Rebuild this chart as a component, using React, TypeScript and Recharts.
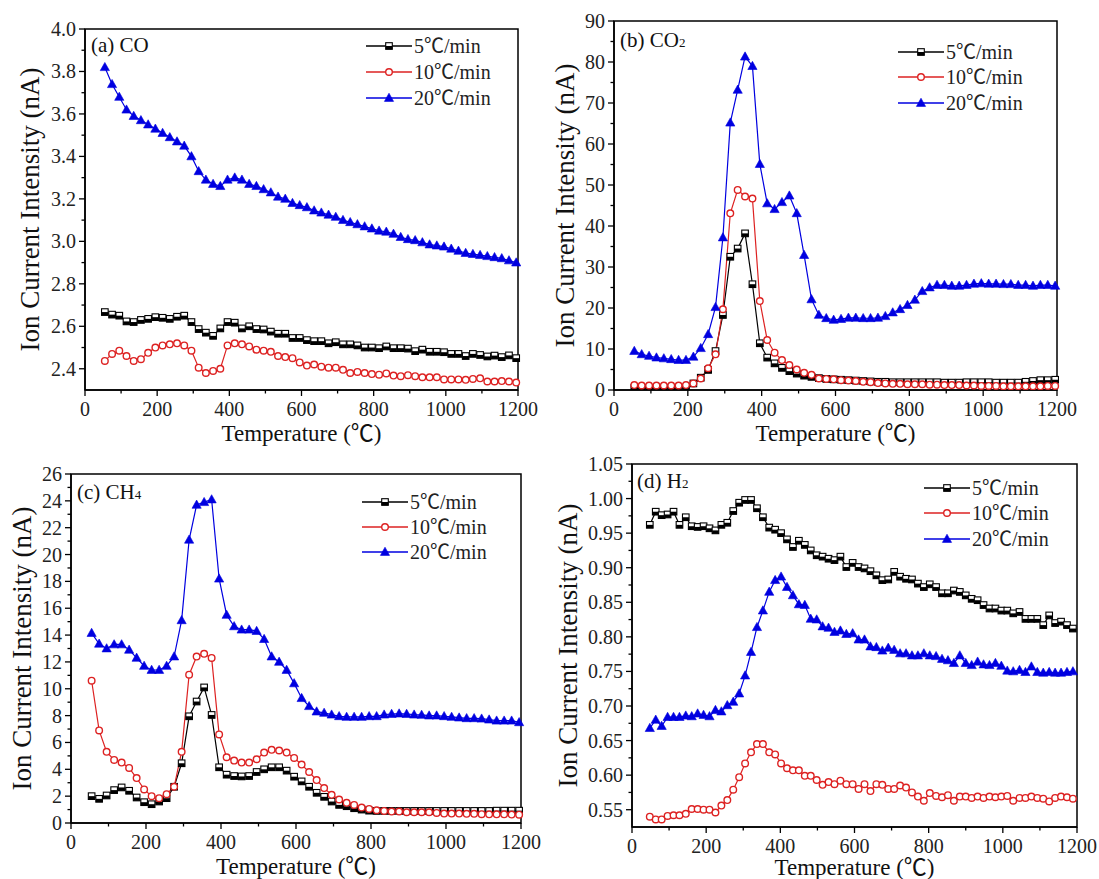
import React from "react";
import { LineChart, Line, XAxis, YAxis, ReferenceArea, Legend } from "recharts";

const FONT = "'Liberation Serif', 'Times New Roman', 'Noto Sans CJK SC', serif";

// temperatures (°C) for panels a-c
const TEMPS = [
  55, 75, 95, 115, 135, 155, 175, 195, 215, 235, 255, 275, 295, 315, 335, 355, 375, 395, 415, 435,
  455, 475, 495, 515, 535, 555, 575, 595, 615, 635, 655, 675, 695, 715, 735, 755, 775, 795, 815, 835,
  855, 875, 895, 915, 935, 955, 975, 995, 1015, 1035, 1055, 1075, 1095, 1115, 1135, 1155, 1175, 1195,
];
// H2 was sampled more densely
const TEMPS_H2 = [
  48, 64, 80, 96, 112, 128, 145, 161, 177, 193, 209, 225, 241, 257, 273, 289, 305, 321, 337, 353,
  370, 386, 402, 418, 434, 450, 466, 482, 498, 514, 530, 546, 562, 578, 595, 611, 627, 643, 659, 675,
  691, 707, 723, 739, 755, 771, 787, 803, 820, 836, 852, 868, 884, 900, 916, 932, 948, 964, 980, 996,
  1012, 1028, 1045, 1061, 1077, 1093, 1109, 1125, 1141, 1157, 1173, 1189,
];

const X_TICKS = [0, 100, 200, 300, 400, 500, 600, 700, 800, 900, 1000, 1100, 1200];

const SERIES_NAMES = ["5℃/min", "10℃/min", "20℃/min"];

// (a) CO
const CO_5 = [
  2.667, 2.655, 2.65, 2.623, 2.62, 2.63, 2.635, 2.643, 2.64, 2.635, 2.645, 2.65, 2.62, 2.587, 2.57,
  2.555, 2.59, 2.62, 2.617, 2.59, 2.6, 2.587, 2.585, 2.575, 2.565, 2.565, 2.545, 2.545, 2.535, 2.53,
  2.53, 2.52, 2.525, 2.515, 2.515, 2.51, 2.5, 2.5, 2.497, 2.505, 2.497, 2.497, 2.495, 2.483, 2.49,
  2.48, 2.48, 2.478, 2.47, 2.47, 2.46, 2.47, 2.465, 2.458, 2.462, 2.455, 2.463, 2.45,
];
const CO_10 = [
  2.437, 2.47, 2.485, 2.46, 2.437, 2.445, 2.475, 2.5, 2.51, 2.515, 2.52, 2.51, 2.485, 2.405, 2.38,
  2.39, 2.4, 2.51, 2.52, 2.515, 2.505, 2.49, 2.485, 2.48, 2.46, 2.455, 2.45, 2.43, 2.415, 2.42, 2.41,
  2.405, 2.405, 2.395, 2.38, 2.385, 2.38, 2.375, 2.372, 2.378, 2.368, 2.365, 2.37, 2.365, 2.36, 2.36,
  2.36, 2.35, 2.35, 2.35, 2.348, 2.352, 2.355, 2.34, 2.34, 2.342, 2.34, 2.335,
];
const CO_20 = [
  3.82, 3.74, 3.68, 3.62, 3.59, 3.57, 3.55, 3.53, 3.51, 3.49, 3.47, 3.45, 3.4, 3.33, 3.29, 3.27,
  3.26, 3.29, 3.3, 3.29, 3.27, 3.26, 3.245, 3.23, 3.21, 3.2, 3.18, 3.17, 3.16, 3.145, 3.135, 3.125,
  3.115, 3.1, 3.09, 3.08, 3.07, 3.06, 3.05, 3.045, 3.035, 3.02, 3.01, 3.005, 2.995, 2.985, 2.98,
  2.975, 2.965, 2.955, 2.945, 2.94, 2.935, 2.93, 2.925, 2.92, 2.91, 2.9,
];

// (b) CO2
const CO2_5 = [
  0.5, 0.5, 0.5, 0.5, 0.5, 0.5, 0.5, 0.6, 1.6, 3.0, 4.9, 9.5, 18.3, 32.5, 34.5, 38.2, 25.8, 11.4,
  7.9, 6.5, 5.4, 4.6, 4.0, 3.5, 3.2, 2.9, 2.7, 2.6, 2.5, 2.4, 2.3, 2.2, 2.1, 2.0, 2.0, 1.9, 1.9, 1.9,
  1.9, 1.9, 1.9, 1.9, 1.8, 1.8, 1.8, 1.9, 1.9, 1.9, 1.9, 1.8, 1.8, 1.8, 1.8, 2.0, 2.2, 2.4, 2.4, 2.5,
];
const CO2_10 = [
  1.2, 1.1, 1.1, 1.1, 1.1, 1.1, 1.1, 1.2, 1.6, 2.8, 5.3, 8.7, 19.7, 43.1, 48.8, 47.2, 46.7, 21.7,
  12.2, 9.1, 7.3, 6.1, 5.0, 4.2, 3.7, 2.8, 2.7, 2.6, 2.4, 2.3, 2.2, 2.0, 1.9, 1.7, 1.6, 1.5, 1.5, 1.4,
  1.4, 1.4, 1.3, 1.3, 1.2, 1.2, 1.2, 1.1, 1.1, 1.0, 1.0, 1.0, 0.9, 0.9, 0.9, 0.9, 0.9, 0.9, 1.0, 1.0,
];
const CO2_20 = [
  9.5, 8.7, 8.3, 7.9, 7.7, 7.5, 7.3, 7.3, 8.1, 10.2, 13.6, 20.2, 37.2, 65.2, 73.2, 81.3, 79.0, 55.1,
  45.5, 44.1, 45.8, 47.4, 43.1, 32.9, 22.1, 18.3, 17.5, 17.1, 17.3, 17.6, 17.6, 17.5, 17.5, 17.6,
  18.0, 18.9, 19.7, 20.7, 22.0, 24.1, 25.0, 25.6, 25.6, 25.4, 25.4, 25.6, 25.9, 26.0, 25.9, 25.9,
  25.8, 25.8, 25.6, 25.6, 25.4, 25.6, 25.6, 25.4,
];

// (c) CH4
const CH4_5 = [
  2.0, 1.8, 2.05, 2.45, 2.65, 2.4, 1.9, 1.55, 1.4, 1.6, 1.85, 2.7, 4.45, 7.95, 9.05, 10.1, 8.05,
  4.15, 3.6, 3.5, 3.47, 3.5, 3.8, 4.0, 4.15, 4.15, 3.9, 3.45, 3.1, 2.7, 2.25, 1.95, 1.6, 1.35, 1.25,
  1.1, 1.0, 0.92, 0.9, 0.9, 0.9, 0.9, 0.9, 0.9, 0.9, 0.9, 0.9, 0.9, 0.9, 0.9, 0.9, 0.9, 0.9, 0.9,
  0.92, 0.92, 0.92, 0.92,
];
const CH4_10 = [
  10.6, 6.9, 5.3, 4.7, 4.5, 4.1, 3.35, 2.5, 2.0, 1.85, 2.15, 2.7, 5.3, 11.05, 12.4, 12.6, 12.3, 6.6,
  4.9, 4.65, 4.5, 4.5, 4.75, 5.25, 5.45, 5.4, 5.25, 4.85, 4.35, 3.8, 3.2, 2.6, 2.1, 1.75, 1.5, 1.35,
  1.15, 1.05, 0.95, 0.9, 0.85, 0.85, 0.8, 0.8, 0.8, 0.8, 0.75, 0.7, 0.7, 0.7, 0.68, 0.68, 0.66, 0.65,
  0.65, 0.65, 0.63, 0.62,
];
const CH4_20 = [
  14.15, 13.35, 13.0, 13.3, 13.3, 12.9, 12.3, 11.7, 11.4, 11.4, 11.7, 12.4, 15.1, 21.1, 23.7, 23.9,
  24.1, 18.2, 15.5, 14.65, 14.4, 14.4, 14.3, 13.7, 12.4, 12.0, 11.4, 10.4, 9.3, 8.7, 8.3, 8.2, 8.07,
  7.95, 7.9, 7.9, 7.9, 7.95, 7.95, 8.07, 8.12, 8.15, 8.12, 8.07, 8.05, 8.0, 8.0, 7.95, 7.9, 7.85, 7.8,
  7.8, 7.77, 7.7, 7.62, 7.62, 7.62, 7.5,
];

// (d) H2
const H2_5 = [
  0.962, 0.981, 0.976, 0.977, 0.981, 0.962, 0.973, 0.96, 0.959, 0.96, 0.957, 0.954, 0.962, 0.965,
  0.982, 0.994, 0.998, 0.998, 0.986, 0.973, 0.958, 0.955, 0.95, 0.941, 0.93, 0.939, 0.933, 0.925,
  0.918, 0.916, 0.913, 0.911, 0.916, 0.901, 0.907, 0.901, 0.899, 0.895, 0.889, 0.882, 0.883, 0.894,
  0.887, 0.884, 0.883, 0.877, 0.872, 0.876, 0.872, 0.863, 0.863, 0.867, 0.865, 0.86, 0.855, 0.853,
  0.846, 0.841, 0.841, 0.838, 0.838, 0.834, 0.836, 0.826, 0.826, 0.826, 0.817, 0.831, 0.82, 0.822,
  0.817, 0.812,
];
const H2_10 = [
  0.54, 0.536, 0.536, 0.541, 0.542, 0.542, 0.544, 0.551, 0.551, 0.55, 0.55, 0.546, 0.556, 0.564,
  0.579, 0.597, 0.617, 0.633, 0.645, 0.645, 0.633, 0.63, 0.617, 0.61, 0.607, 0.607, 0.599, 0.599,
  0.593, 0.586, 0.59, 0.587, 0.592, 0.587, 0.587, 0.58, 0.587, 0.577, 0.587, 0.586, 0.58, 0.58,
  0.585, 0.582, 0.575, 0.569, 0.563, 0.574, 0.57, 0.568, 0.571, 0.563, 0.569, 0.569, 0.567, 0.569,
  0.567, 0.569, 0.568, 0.569, 0.57, 0.563, 0.567, 0.567, 0.569, 0.567, 0.566, 0.562, 0.567, 0.569,
  0.568, 0.566,
];
const H2_20 = [
  0.668, 0.68, 0.671, 0.684, 0.684, 0.684, 0.686, 0.685, 0.689, 0.687, 0.685, 0.694, 0.692, 0.701,
  0.706, 0.718, 0.744, 0.778, 0.814, 0.838, 0.865, 0.882, 0.887, 0.872, 0.86, 0.847, 0.846, 0.826,
  0.825, 0.815, 0.813, 0.807, 0.809, 0.804, 0.805, 0.796, 0.796, 0.786, 0.785, 0.78, 0.784, 0.781,
  0.776, 0.776, 0.773, 0.773, 0.776, 0.773, 0.772, 0.768, 0.766, 0.762, 0.773, 0.762, 0.759, 0.764,
  0.76, 0.759, 0.762, 0.758, 0.751, 0.75, 0.752, 0.749, 0.757, 0.749, 0.748, 0.749, 0.748, 0.748,
  0.749, 0.75,
];

// y ticks
const CO_MAJOR = [2.4, 2.6, 2.8, 3.0, 3.2, 3.4, 3.6, 3.8, 4.0];
const CO_MINOR = [2.5, 2.7, 2.9, 3.1, 3.3, 3.5, 3.7, 3.9];
const CO2_MAJOR = [0, 10, 20, 30, 40, 50, 60, 70, 80, 90];
const CO2_MINOR = [5, 15, 25, 35, 45, 55, 65, 75, 85];
const CH4_MAJOR = [0, 2, 4, 6, 8, 10, 12, 14, 16, 18, 20, 22, 24, 26];
const CH4_MINOR = [1, 3, 5, 7, 9, 11, 13, 15, 17, 19, 21, 23, 25];
const H2_MAJOR = [0.55, 0.6, 0.65, 0.7, 0.75, 0.8, 0.85, 0.9, 0.95, 1.0, 1.05];
const H2_MINOR = [0.575, 0.625, 0.675, 0.725, 0.775, 0.825, 0.875, 0.925, 0.975, 1.025];

const BLACK = "#000000";
const RED = "#dd2222";
const BLUE = "#0000e0";

const rows = (temps: number[], a: number[], b: number[], c: number[]) =>
  temps.map((t, i) => ({ t, s5: a[i], s10: b[i], s20: c[i] }));

function drawSquare(cx: number, cy: number, key?: string) {
  return (
    <g key={key}>
      <rect x={cx - 3.3} y={cy - 3.3} width={6.6} height={6.6} fill="#fff" stroke={BLACK} strokeWidth={1.1} />
      <rect x={cx - 3.3} y={cy} width={6.6} height={3.3} fill={BLACK} />
    </g>
  );
}
function drawCircle(cx: number, cy: number, key?: string) {
  return <circle key={key} cx={cx} cy={cy} r={3.3} fill="#fff" stroke={RED} strokeWidth={1.4} />;
}
function drawTriangle(cx: number, cy: number, key?: string) {
  return (
    <path
      key={key}
      d={`M${cx},${cy - 4.8} L${cx + 4.6},${cy + 3.4} L${cx - 4.6},${cy + 3.4} Z`}
      fill={BLUE}
      stroke={BLUE}
      strokeWidth={0.6}
    />
  );
}
const MARKERS = [drawSquare, drawCircle, drawTriangle];
const COLORS = [BLACK, RED, BLUE];
const KEYS = ["s5", "s10", "s20"];

function XTick(props: any) {
  const { x, y, payload } = props;
  const v = payload.value;
  const major = v % 200 === 0;
  return (
    <g>
      <line x1={x} y1={y} x2={x} y2={y + (major ? 6 : 3.5)} stroke="#000" strokeWidth={1.3} />
      {major && (
        <text x={x} y={y + 26} textAnchor="middle" fontSize={20} fontFamily={FONT} fill="#222">
          {v}
        </text>
      )}
    </g>
  );
}

function makeYTick(majors: number[], decimals: number) {
  return (props: any) => {
    const { x, y, payload } = props;
    const v = payload.value;
    const major = majors.some((m) => Math.abs(m - v) < 1e-6);
    return (
      <g>
        <line x1={x - (major ? 6 : 3.5)} y1={y} x2={x} y2={y} stroke="#000" strokeWidth={1.3} />
        {major && (
          <text x={x - 9} y={y} dy="0.35em" textAnchor="end" fontSize={20} fontFamily={FONT} fill="#222">
            {v.toFixed(decimals)}
          </text>
        )}
      </g>
    );
  };
}

function LegendBox({ rowH }: { rowH: number }) {
  return (
    <div style={{ fontFamily: FONT, color: "#222" }}>
      {SERIES_NAMES.map((name, i) => (
        <div key={name} style={{ display: "flex", alignItems: "center", height: rowH }}>
          <svg width={46} height={14} style={{ display: "block" }}>
            <line x1={0} y1={7} x2={46} y2={7} stroke={COLORS[i]} strokeWidth={1.3} />
            {MARKERS[i](23, 7)}
          </svg>
          <span style={{ marginLeft: 2, fontSize: 20, lineHeight: 1 }}>{name}</span>
        </div>
      ))}
    </div>
  );
}

type PanelCfg = {
  data: any[];
  plot: { l: number; t: number; r: number; b: number };
  yDomain: [number, number];
  yMajor: number[];
  yMinor: number[];
  decimals: number;
  legend: { x: number; y: number; rowH: number };
  label: { x: number; base: number; main: string; sub?: string };
  yTitleDist: number;
  xTitleDy: number;
};

const YW = 85;
const XH = 60;
const MT = 10;
const MR = 22;

function Panel({ cfg }: { cfg: PanelCfg }) {
  const { plot, data, yDomain, yMajor, yMinor, decimals, legend, label, yTitleDist, xTitleDy } = cfg;
  const left = plot.l - YW;
  const top = plot.t - MT;
  const width = YW + (plot.r - plot.l) + MR;
  const height = MT + (plot.b - plot.t) + XH;
  const yTicks = [...yMajor, ...yMinor].sort((a, b) => a - b);
  const plotH = plot.b - plot.t;
  const plotW = plot.r - plot.l;

  return (
    <>
      <div style={{ position: "absolute", left, top }}>
        <LineChart width={width} height={height} data={data} margin={{ top: MT, right: MR, left: 0, bottom: 0 }}>
          <XAxis
            dataKey="t"
            type="number"
            domain={[0, 1200]}
            ticks={X_TICKS}
            interval={0}
            height={XH}
            tickSize={0}
            tickMargin={0}
            tickLine={false}
            axisLine={{ stroke: "#000", strokeWidth: 1.5 }}
            tick={<XTick />}
            label={{
              content: () => (
                <text
                  x={YW + plotW / 2}
                  y={MT + plotH + xTitleDy}
                  textAnchor="middle"
                  fontSize={23}
                  fontFamily={FONT}
                  fill="#111"
                >
                  Temperature (℃)
                </text>
              ),
            }}
          />
          <YAxis
            type="number"
            domain={yDomain}
            allowDataOverflow
            ticks={yTicks}
            interval={0}
            width={YW}
            tickSize={0}
            tickMargin={0}
            tickLine={false}
            axisLine={{ stroke: "#000", strokeWidth: 1.5 }}
            tick={makeYTick(yMajor, decimals)}
            label={{
              content: () => {
                const x = YW - yTitleDist;
                const y = MT + plotH / 2;
                return (
                  <text
                    x={x}
                    y={y}
                    transform={`rotate(-90, ${x}, ${y})`}
                    textAnchor="middle"
                    dominantBaseline="central"
                    fontSize={27}
                    fontFamily={FONT}
                    fill="#111"
                  >
                    Ion Current Intensity (nA)
                  </text>
                );
              },
            }}
          />
          <ReferenceArea
            x1={0}
            x2={1200}
            y1={yDomain[0]}
            y2={yDomain[1]}
            fill="none"
            fillOpacity={0}
            stroke="#000"
            strokeWidth={1.5}
          />
          {KEYS.map((k, i) => (
            <Line
              key={k}
              dataKey={k}
              name={SERIES_NAMES[i]}
              stroke={COLORS[i]}
              strokeWidth={1.2}
              isAnimationActive={false}
              activeDot={false}
              dot={(p: any) =>
                p.cx == null || p.cy == null ? <g key={`${k}-${p.index}`} /> : MARKERS[i](p.cx, p.cy, `${k}-${p.index}`)
              }
            />
          ))}
          <Legend
            layout="horizontal"
            verticalAlign="middle"
            align="center"
            wrapperStyle={{ left: legend.x - left, top: legend.y - top, width: 160 }}
            content={() => <LegendBox rowH={legend.rowH} />}
          />
        </LineChart>
      </div>
      <div
        style={{
          position: "absolute",
          left: label.x,
          top: label.base - 18,
          fontFamily: FONT,
          fontSize: 21,
          lineHeight: "21px",
          color: "#111",
          whiteSpace: "nowrap",
        }}
      >
        {label.main}
        {label.sub && <span style={{ fontSize: 13 }}>{label.sub}</span>}
      </div>
    </>
  );
}

const PANELS: PanelCfg[] = [
  {
    data: rows(TEMPS, CO_5, CO_10, CO_20),
    plot: { l: 85, t: 29, r: 518, b: 390 },
    yDomain: [2.3, 4.0],
    yMajor: CO_MAJOR,
    yMinor: CO_MINOR,
    decimals: 1,
    legend: { x: 366, y: 33, rowH: 26 },
    label: { x: 91, base: 53, main: "(a) CO" },
    yTitleDist: 55,
    xTitleDy: 51,
  },
  {
    data: rows(TEMPS, CO2_5, CO2_10, CO2_20),
    plot: { l: 614, t: 21, r: 1057, b: 390 },
    yDomain: [0, 90],
    yMajor: CO2_MAJOR,
    yMinor: CO2_MINOR,
    decimals: 0,
    legend: { x: 898, y: 39, rowH: 25.5 },
    label: { x: 620, base: 48, main: "(b) CO", sub: "2" },
    yTitleDist: 49,
    xTitleDy: 51,
  },
  {
    data: rows(TEMPS, CH4_5, CH4_10, CH4_20),
    plot: { l: 71, t: 474, r: 521, b: 823 },
    yDomain: [0, 26],
    yMajor: CH4_MAJOR,
    yMinor: CH4_MINOR,
    decimals: 0,
    legend: { x: 362, y: 489, rowH: 25 },
    label: { x: 77, base: 500, main: "(c) CH", sub: "4" },
    yTitleDist: 49,
    xTitleDy: 51,
  },
  {
    data: rows(TEMPS_H2, H2_5, H2_10, H2_20),
    plot: { l: 632, t: 464, r: 1077, b: 827 },
    yDomain: [0.525, 1.05],
    yMajor: H2_MAJOR,
    yMinor: H2_MINOR,
    decimals: 2,
    legend: { x: 924, y: 475, rowH: 25.5 },
    label: { x: 637, base: 489, main: "(d) H", sub: "2" },
    yTitleDist: 64,
    xTitleDy: 48,
  },
];

export default function App() {
  return (
    <div style={{ position: "absolute", left: 0, top: 0, width: 1099, height: 879, background: "#fff", overflow: "hidden" }}>
      {PANELS.map((cfg, i) => (
        <Panel key={i} cfg={cfg} />
      ))}
    </div>
  );
}
